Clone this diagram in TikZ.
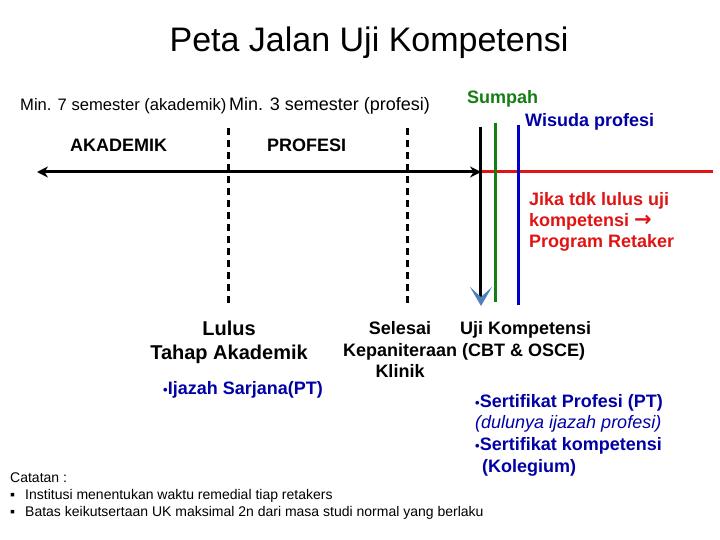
\documentclass[tikz,border=0pt]{standalone}
\usepackage{fontspec}
\setmainfont{Liberation Sans}
\newfontfamily\arrowfont{DejaVu Sans}
\usetikzlibrary{arrows.meta}
\definecolor{txtblue}{RGB}{0,0,165}
\definecolor{lineblue}{RGB}{0,0,200}
\definecolor{dkgreen}{RGB}{20,125,20}
\definecolor{rred}{RGB}{225,20,20}
\definecolor{steel}{RGB}{79,129,189}
\newcommand{\smallbul}{{\fontsize{13}{13}\selectfont\textbullet}}
\tikzset{
  lbl/.style={inner sep=0pt, anchor=mid west, yshift=-3.5pt, font=\fontsize{18}{21}\selectfont\bfseries},
  lblc/.style={lbl, anchor=mid},
  note/.style={inner sep=0pt, anchor=mid west, yshift=-3pt, font=\fontsize{14}{16}\selectfont},
  thick3/.style={line width=3pt},
  dashline/.style={line width=3pt, dash pattern=on 7pt off 5pt},
}
\begin{document}
\begin{tikzpicture}[x=1pt,y=-1pt]
\useasboundingbox (0,0) rectangle (720,540);
% title
\node[inner sep=0pt, anchor=mid, font=\fontsize{34}{40}\selectfont] (title) at (369,49) {Peta Jalan Uji Kompetensi};
% top labels
\node[inner sep=0pt, anchor=mid west, yshift=-3pt, font=\fontsize{16.6}{20}\selectfont] (min7) at (20,105) {Min. 7 semester (akademik)};
\node[inner sep=0pt, anchor=mid west, yshift=-3pt, font=\fontsize{18}{21}\selectfont] (min3) at (229,105) {Min. 3 semester (profesi)};
\node[lbl, text=dkgreen] (sumpah) at (467,97) {Sumpah};
\node[lbl, text=txtblue] (wisuda) at (525,120) {Wisuda profesi};
\node[lbl] (akad) at (70,145) {AKADEMIK};
\node[lbl] (prof) at (267,145) {PROFESI};
% lines
\coordinate (aL) at (37,172);
\coordinate (aR) at (481,172);
\coordinate (rEnd) at (713,172);
\draw[dashline] (228,128) coordinate (d1t) -- (228,304) coordinate (d1b);
\draw[dashline] (407,128) coordinate (d2t) -- (407,304) coordinate (d2b);
\draw[rred, thick3] (aR) -- (rEnd);
\draw[thick3, {Stealth[length=11pt,width=11pt]}-{Stealth[length=11pt,width=11pt]}] (aL) -- (aR);
\draw[thick3] (480,127) coordinate (bkT) -- (480,298) coordinate (bkB);
\draw[dkgreen, thick3] (495,123) coordinate (gT) -- (495,302) coordinate (gB);
\draw[lineblue, thick3] (518,125) coordinate (bT) -- (518,305) coordinate (bB);
\fill[steel] (470,287) -- (481,297) -- (492,287) -- (481,306) -- cycle;
% red text
\node[lbl, text=rred] (jika1) at (529,199) {Jika tdk lulus uji};
\node[lbl, text=rred] (jika2) at (529,220) {kompetensi {\arrowfont\bfseries\fontsize{21}{21}\selectfont\char"2192}};
\node[lbl, text=rred] (jika3) at (529,241) {Program Retaker};
% Lulus
\node[lblc, font=\fontsize{20}{24}\selectfont\bfseries] (lulus) at (229,329) {Lulus};
\node[lblc, font=\fontsize{20}{24}\selectfont\bfseries] (tahap) at (229,353) {Tahap Akademik};
\node[lbl, text=txtblue] (ijazah) at (163,388) {\smallbul Ijazah Sarjana(PT)};
% Selesai
\node[lblc] (selesai) at (400,328) {Selesai};
\node[lbl] (uji) at (460,328) {Uji Kompetensi};
\node[lbl] (kepan) at (343,350) {Kepaniteraan (CBT \& OSCE)};
\node[lblc] (klinik) at (400,371) {Klinik};
% sertifikat
\node[lbl, text=txtblue] (sert1) at (475,401) {\smallbul Sertifikat Profesi (PT)};
\node[lbl, text=txtblue, font=\fontsize{18}{21}\selectfont\itshape] (dulu) at (475,422) {(dulunya ijazah profesi)};
\node[lbl, text=txtblue] (sert2) at (475,444) {\smallbul Sertifikat kompetensi};
\node[lbl, text=txtblue] (koleg) at (482,466) {(Kolegium)};
% notes
\node[note] (cat) at (10,477) {Catatan :};
\node[note] (b1) at (10,494) {\char"25AA};
\node[note] (n1) at (25,494) {Institusi menentukan waktu remedial tiap retakers};
\node[note] (b2) at (10,511) {\char"25AA};
\node[note] (n2) at (25,511) {Batas keikutsertaan UK maksimal 2n dari masa studi normal yang berlaku};
\end{tikzpicture}
\end{document}
